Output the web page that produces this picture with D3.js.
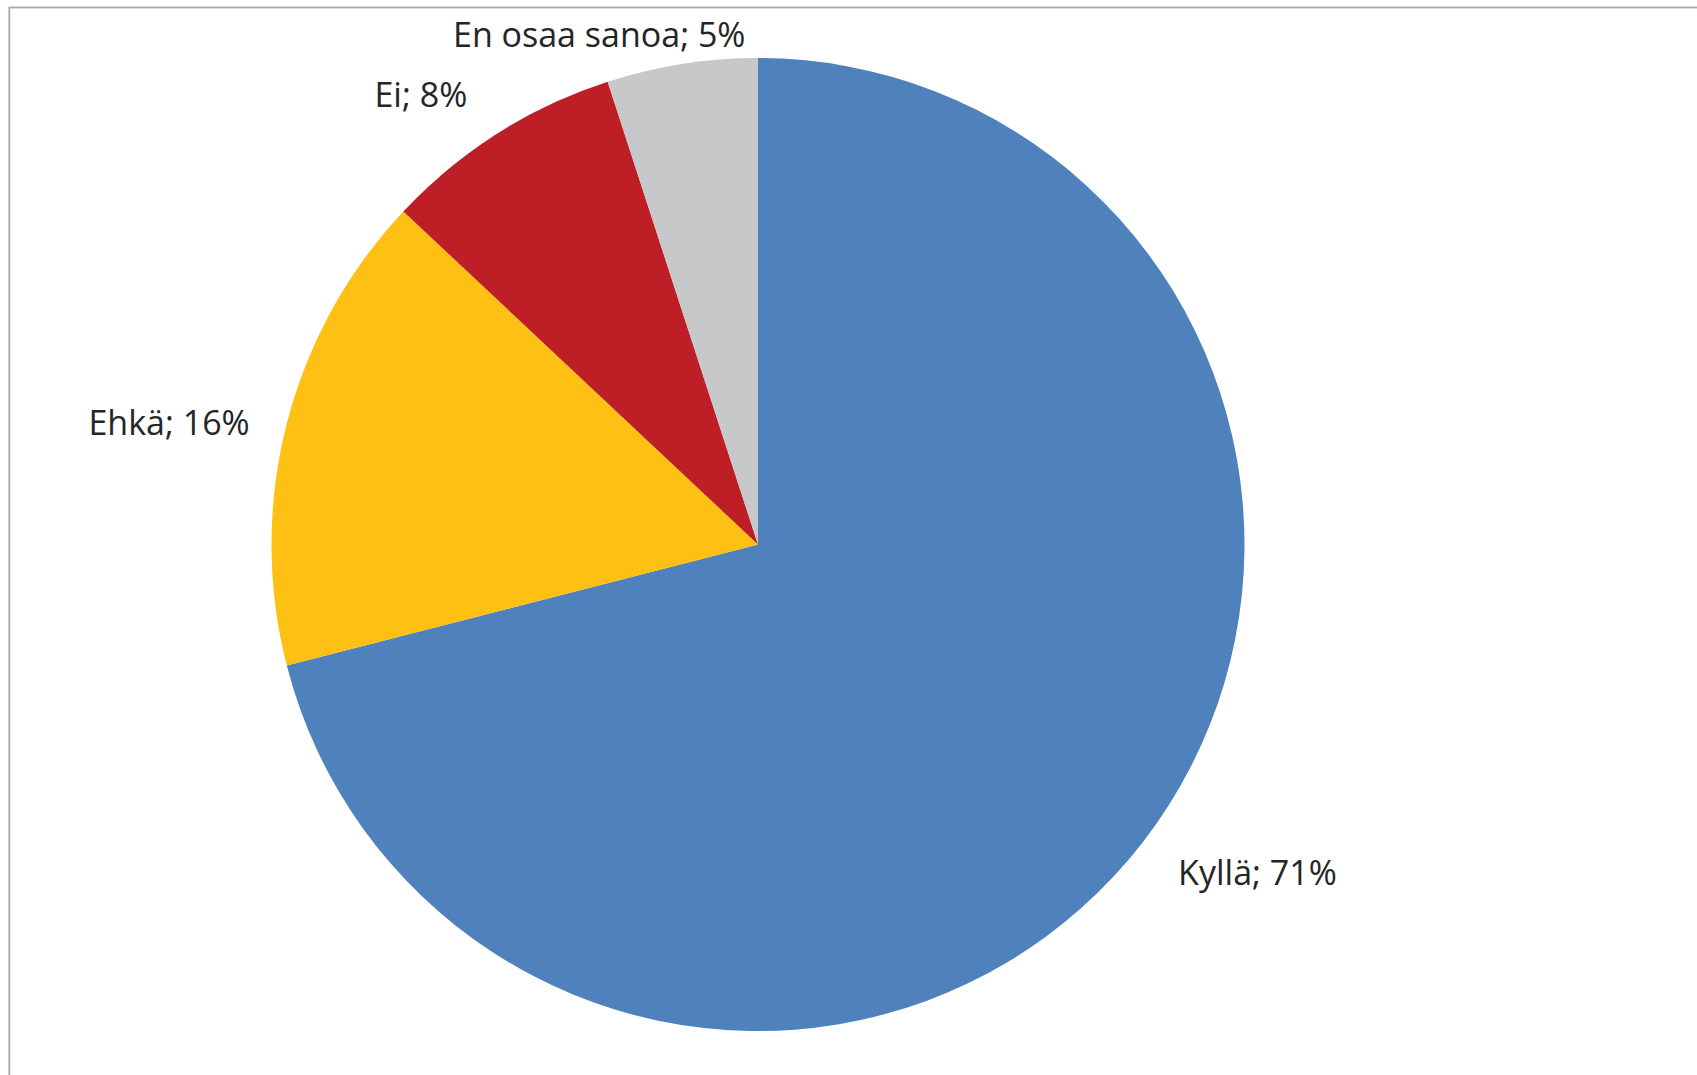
<!DOCTYPE html>
<html>
<head>
<meta charset="utf-8">
<script src="https://cdn.jsdelivr.net/npm/d3@7"></script>
<style>
  html, body { margin: 0; padding: 0; background: #fff; }
  svg { display: block; }
</style>
</head>
<body>
<svg id="chart" width="1697" height="1075"></svg>
<script>
// ---- data ----
const categories = ["Kyllä", "Ehkä", "Ei", "En osaa sanoa"];
const values = [71, 16, 8, 5];
const colors = ["#4f81bd", "#fdc013", "#be1f26", "#c7c8ca"];

// ---- layout (not data) ----
const W = 1697, H = 1075;
const cx = 758, cy = 544.5, R = 486.5;
const labelGap = 30;
// per-label nudges and anchors relative to the outer arc point
const labelLayout = {
  "Kyllä":         { anchor: "start",  dx: 12,  dy: 24 },
  "Ehkä":          { anchor: "end",    dx: -8,  dy: 19 },
  "Ei":            { anchor: "end",    dx: -14, dy: -1.5 },
  "En osaa sanoa": { anchor: "middle", dx: -78, dy: 12.5 }
};

const svg = d3.select("#chart");

// frame
svg.append("rect")
  .attr("x", 9.3).attr("y", 7.5)
  .attr("width", W + 20).attr("height", H + 20)
  .attr("fill", "none")
  .attr("stroke", "#a8a8a8")
  .attr("stroke-width", 1.8);

const data = categories.map((c, i) => ({ name: c, value: values[i], color: colors[i] }));

const pie = d3.pie().value(d => d.value).sort(null)
  .startAngle(0).endAngle(2 * Math.PI);
const arcs = pie(data);

const arc = d3.arc().innerRadius(0).outerRadius(R);

const g = svg.append("g").attr("transform", `translate(${cx},${cy})`);

g.selectAll("path.slice")
  .data(arcs)
  .join("path")
  .attr("class", "slice")
  .attr("d", arc)
  .attr("fill", d => d.data.color);

g.selectAll("text.label")
  .data(arcs)
  .join("text")
  .attr("class", "label")
  .each(function(d) {
    const mid = (d.startAngle + d.endAngle) / 2;
    const px = (R + labelGap) * Math.sin(mid);
    const py = -(R + labelGap) * Math.cos(mid);
    const L = labelLayout[d.data.name];
    d3.select(this)
      .attr("x", px + L.dx)
      .attr("y", py + L.dy)
      .attr("text-anchor", L.anchor);
  })
  .attr("font-family", "'Open Sans', 'Noto Sans', sans-serif")
  .attr("font-size", 34)
  .attr("fill", "#252525")
  .text(d => `${d.data.name}; ${d.data.value}%`);
</script>
</body>
</html>
